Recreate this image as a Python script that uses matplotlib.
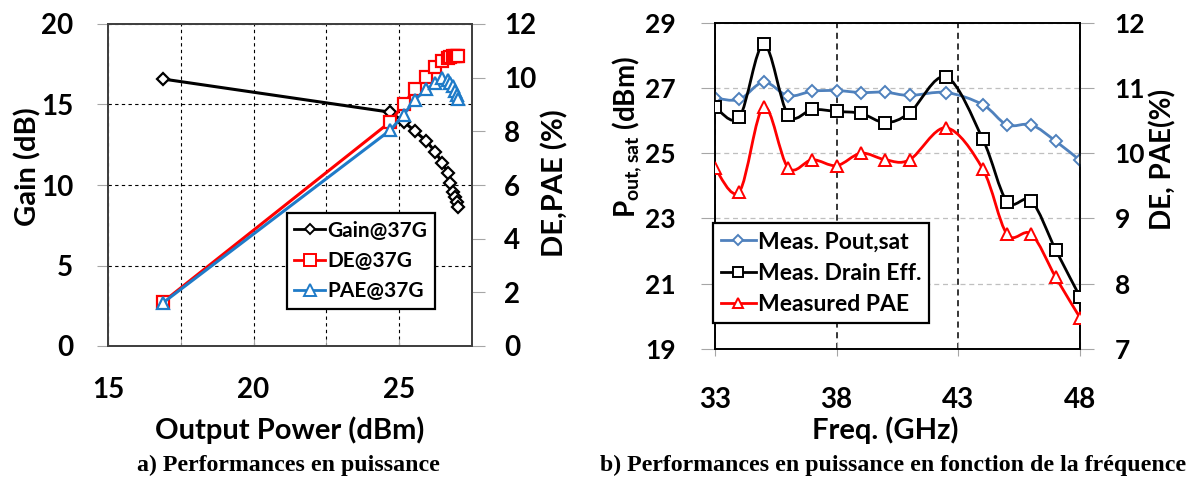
import numpy as np
import matplotlib
matplotlib.use('Agg')
import matplotlib.pyplot as plt
from matplotlib.path import Path
from matplotlib.patches import PathPatch
from matplotlib.lines import Line2D

plt.rcParams['font.family'] = ['Lato', 'DejaVu Sans']
plt.rcParams['font.weight'] = 'bold'
plt.rcParams['mathtext.fontset'] = 'custom'
plt.rcParams['mathtext.rm'] = 'Lato:bold'
plt.rcParams['mathtext.bf'] = 'Lato:bold'

# ---------------- data: left chart (power sweep @ 37 GHz) ----------------
pout_dbm = [16.9, 24.70, 25.15, 25.53, 25.93, 26.24, 26.48, 26.68, 26.76, 26.85, 26.93, 26.99, 27.02]
gain_db = [16.58, 14.52, 13.93, 13.37, 12.73, 12.06, 11.38, 10.72, 10.14, 9.58, 9.23, 8.92, 8.65]
de_pct = [1.65, 8.36, 9.01, 9.57, 10.01, 10.39, 10.63, 10.72, 10.76, 10.79, 10.81, 10.81, 10.82]
pae_pct = [1.62, 8.05, 8.61, 9.17, 9.57, 9.79, 9.98, 9.90, 9.80, 9.68, 9.50, 9.35, 9.22]
left_xticks = [15, 20, 25]
left_yticks = [0, 5, 10, 15, 20]
left_y2ticks = [0, 2, 4, 6, 8, 10, 12]

# ---------------- data: right chart (frequency sweep) ----------------
freq_ghz = [33, 34, 35, 36, 37, 38, 39, 40, 41, 42.5, 44, 45, 46, 47, 48]
pout_sat = [26.69, 26.65, 27.18, 26.76, 26.90, 26.92, 26.86, 26.87, 26.77, 26.86, 26.49, 25.87, 25.87, 25.37, 24.78]
drain_eff = [10.71, 10.55, 11.67, 10.59, 10.67, 10.64, 10.61, 10.47, 10.62, 11.17, 10.22, 9.26, 9.27, 8.52, 7.80]
pae_meas = [9.77, 9.41, 10.71, 9.78, 9.90, 9.81, 10.00, 9.90, 9.90, 10.39, 9.76, 8.76, 8.76, 8.10, 7.48]
right_xticks = [33, 38, 43, 48]
right_yticks = [19, 21, 23, 25, 27, 29]
right_y2ticks = [7, 8, 9, 10, 11, 12]

W, H = 1192, 478
fig = plt.figure(figsize=(W / 100, H / 100), dpi=100)


def box(l, t, r, b):
    return [l / W, 1 - b / H, (r - l) / W, (b - t) / H]


def smooth_path(xs, ys, t=1 / 6):
    P = np.column_stack([xs, ys]).astype(float)
    n = len(P)
    verts = [P[0]]
    codes = [Path.MOVETO]
    for i in range(n - 1):
        p0 = P[i - 1] if i > 0 else P[i]
        p1 = P[i]
        p2 = P[i + 1]
        p3 = P[i + 2] if i + 2 < n else P[i + 1]
        verts += [p1 + (p2 - p0) * t, p2 - (p3 - p1) * t, p2]
        codes += [Path.CURVE4] * 3
    return Path(verts, codes)


TICKFS = 20
LABFS = 21
TICKC = '#A6A6A6'

# ================= left chart =================
ax = fig.add_axes(box(108, 24, 472, 346))
ax2 = ax.twinx()
ax.set_xlim(15, 27.5)
ax.set_ylim(0, 20)
ax2.set_ylim(0, 12)
ax.set_xticks(left_xticks)
ax.set_xticks([17.5, 22.5], minor=True)
ax.set_yticks(left_yticks)
ax2.set_yticks(left_y2ticks)
ax.grid(which='both', axis='x', color='black', linestyle=(0, (3, 3)), lw=0.8)
ax.grid(which='major', axis='y', color='black', linestyle=(0, (3, 3)), lw=0.8)
ax.set_axisbelow(True)

ax.plot(pout_dbm, gain_db, color='black', lw=2.2, marker='D', ms=6.5,
        mfc='white', mec='black', mew=1.6, zorder=3)
ax2.plot(pout_dbm, de_pct, color='#FF0000', lw=2.2, marker='s', ms=8.5,
         mfc='white', mec='#FF0000', mew=1.6, zorder=3)
ax2.plot(pout_dbm, pae_pct, color='#1F7BC8', lw=2.2, marker='^', ms=8.5,
         mfc='white', mec='#1F7BC8', mew=1.6, zorder=3)

for a in (ax, ax2):
    for s in a.spines.values():
        s.set_color('#404040')
        s.set_linewidth(1.3)
ax.tick_params(axis='y', direction='out', length=8, color=TICKC, pad=17, labelsize=TICKFS)
ax2.tick_params(axis='y', direction='out', length=9, color=TICKC, pad=14, labelsize=TICKFS)
ax.tick_params(axis='x', which='both', direction='in', length=5, color=TICKC, pad=22, labelsize=TICKFS)

h = [Line2D([], [], color='black', lw=2, marker='D', ms=5.5, mfc='white', mec='black', mew=1.4),
     Line2D([], [], color='#FF0000', lw=2, marker='s', ms=8, mfc='white', mec='#FF0000', mew=1.4),
     Line2D([], [], color='#1F7BC8', lw=2, marker='^', ms=8, mfc='white', mec='#1F7BC8', mew=1.4)]
leg = ax2.legend(h, ['Gain@37G', 'DE@37G', 'PAE@37G'], loc='upper left',
                 bbox_to_anchor=(0.491, 0.412), fontsize=15, frameon=True, fancybox=False,
                 framealpha=1, edgecolor='black', handlelength=1.5, handletextpad=0.1,
                 borderpad=0.35, labelspacing=0.5, borderaxespad=0)
leg.get_frame().set_linewidth(1.6)

fig.text(28 / W, 1 - 167 / H, 'Gain (dB)', rotation=90, ha='center', va='center', fontsize=LABFS)
fig.text(555 / W, 1 - 183 / H, 'DE,PAE (%)', rotation=90, ha='center', va='center', fontsize=LABFS)
fig.text(290 / W, 1 - 430 / H, 'Output Power (dBm)', ha='center', va='center', fontsize=LABFS)

# ================= right chart =================
bx = fig.add_axes(box(715, 22.7, 1080, 349))
bx2 = bx.twinx()
bx.set_xlim(33, 48)
bx.set_ylim(19, 29)
bx2.set_ylim(7, 12)
bx.set_xticks(right_xticks)
bx.set_yticks(right_yticks)
bx2.set_yticks(right_y2ticks)
bx.grid(axis='y', color='#BFBFBF', linestyle=(0, (4, 3)), lw=0.9)
bx.grid(axis='x', color='black', linestyle=(0, (4, 3)), lw=1.1)
bx.set_axisbelow(True)

BLUE = '#4F81BD'
bx.add_patch(PathPatch(smooth_path(freq_ghz, pout_sat), fill=False, edgecolor=BLUE, lw=2.0, zorder=3))
bx.plot(freq_ghz, pout_sat, ls='none', marker='D', ms=6, mfc='white', mec=BLUE, mew=1.4, zorder=4)
bx2.add_patch(PathPatch(smooth_path(freq_ghz, drain_eff), fill=False, edgecolor='black', lw=2.0, zorder=3))
bx2.plot(freq_ghz, drain_eff, ls='none', marker='s', ms=8, mfc='white', mec='black', mew=1.4, zorder=4)
bx2.add_patch(PathPatch(smooth_path(freq_ghz, pae_meas), fill=False, edgecolor='#FF0000', lw=2.0, zorder=3))
bx2.plot(freq_ghz, pae_meas, ls='none', marker='^', ms=8, mfc='white', mec='#FF0000', mew=1.4, zorder=4)

for a in (bx, bx2):
    for s in a.spines.values():
        s.set_color('black')
        s.set_linewidth(1.2)
bx.tick_params(axis='y', direction='out', length=10, color=TICKC, pad=18, labelsize=19)
bx2.tick_params(axis='y', direction='out', length=10, color=TICKC, pad=15, labelsize=19)
bx.tick_params(axis='x', direction='inout', length=10, color=TICKC, pad=22, labelsize=TICKFS)

h2 = [Line2D([], [], color=BLUE, lw=2, marker='D', ms=5.5, mfc='white', mec=BLUE, mew=1.4),
      Line2D([], [], color='black', lw=2, marker='s', ms=6.5, mfc='white', mec='black', mew=1.4),
      Line2D([], [], color='#FF0000', lw=2, marker='^', ms=7, mfc='white', mec='#FF0000', mew=1.4)]
leg2 = bx2.legend(h2, ['Meas. Pout,sat', 'Meas. Drain Eff.', 'Measured PAE'], loc='upper left',
                  bbox_to_anchor=(-0.005, 0.385), fontsize=16.5, frameon=True, fancybox=False,
                  framealpha=1, edgecolor='black', handlelength=1.5, handletextpad=0.1,
                  borderpad=0.35, labelspacing=0.45, borderaxespad=0)
leg2.get_frame().set_linewidth(1.6)

fig.text(627 / W, 1 - 137 / H, r'P$_{\mathbf{out,sat}}$ (dBm)', rotation=90, ha='center', va='center', fontsize=20)
fig.text(1163 / W, 1 - 159 / H, 'DE, PAE(%)', rotation=90, ha='center', va='center', fontsize=20)
fig.text(885 / W, 1 - 430 / H, 'Freq. (GHz)', ha='center', va='center', fontsize=LABFS)

# captions
cap = dict(family=['Liberation Serif', 'DejaVu Serif'], weight='bold', fontsize=17.2, ha='center', va='center')
fig.text(288 / W, 1 - 465 / H, 'a) Performances en puissance', **cap)
fig.text(893 / W, 1 - 465 / H, 'b) Performances en puissance en fonction de la fréquence', **cap)

fig.savefig('out.png', dpi=100)
